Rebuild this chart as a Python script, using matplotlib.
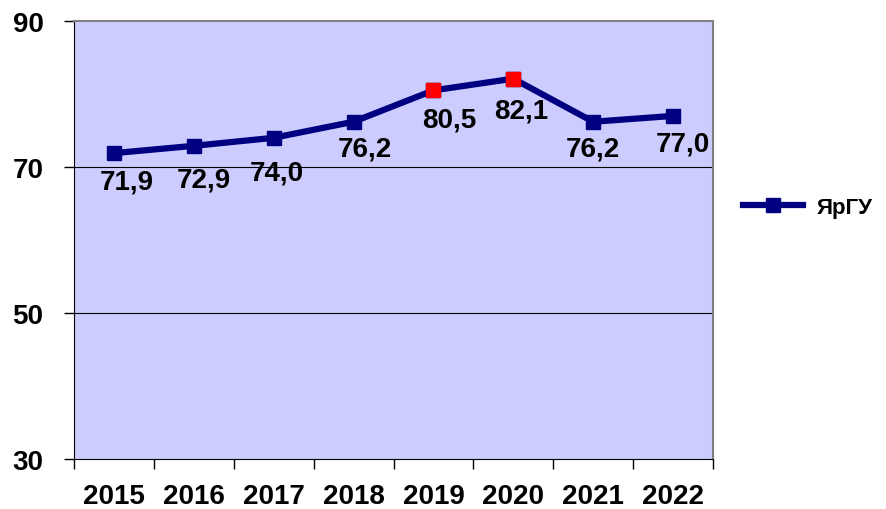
import matplotlib
matplotlib.use("Agg")
import matplotlib.pyplot as plt
import numpy as np

years = ["2015", "2016", "2017", "2018", "2019", "2020", "2021", "2022"]
values = [71.9, 72.9, 74.0, 76.2, 80.5, 82.1, 76.2, 77.0]
highlight = ["2019", "2020"]
series_name = "ЯрГУ"
yticks = [30, 50, 70, 90]

# label placement offsets (pixels) relative to each point
label_dx_px = [13, 10, 3, 11, 16, 8, 0, 10]
label_dy_px = [28, 34, 35, 27, 29, 32, 27, 28]

plt.rcParams['font.family'] = ['Liberation Sans', 'DejaVu Sans']
plt.rcParams['font.weight'] = 'bold'

fig = plt.figure(figsize=(8.86, 5.10), dpi=100)
ax = fig.add_axes([74/886, 1-460/510, (713-74)/886, (460-22)/510])
ax.set_facecolor('#CCCCFF')

x = np.arange(len(years))
navy = '#000080'
ax.plot(x, values, color=navy, lw=4.5, marker='s', ms=10.5, mfc=navy, mec=navy,
        label=series_name, zorder=3)
hx = [i for i, y in enumerate(years) if y in highlight]
ax.plot(hx, [values[i] for i in hx], ls='none', marker='s', ms=10.5, mfc='#FF0000',
        mec='#FF0000', zorder=4)

for xi, v, dx, dy in zip(x, values, label_dx_px, label_dy_px):
    ax.annotate(f"{v:.1f}".replace('.', ','), (xi, v), xytext=(dx * 0.72, -dy * 0.72),
                textcoords='offset points', ha='center', va='center',
                fontsize=20, fontweight='bold', color='black', zorder=5)

ax.set_xlim(-0.5, len(years) - 0.5)
ax.set_ylim(30, 90)
ax.set_yticks(yticks)
ax.set_yticklabels([str(t) for t in yticks], fontsize=20, fontweight='bold')
ax.set_xticks(x)
ax.set_xticklabels(years, fontsize=20, fontweight='bold')
ax.set_xticks(np.arange(-0.5, len(years)), minor=True)
ax.tick_params(axis='x', which='major', length=0, pad=17)
ax.tick_params(axis='x', which='minor', length=7, width=1, direction='out')
ax.tick_params(axis='y', which='major', length=7, width=1, direction='out', pad=15)

for g in [50, 70]:
    ax.axhline(g, color='black', lw=0.8, zorder=1)

ax.spines['top'].set_color('#808080')
ax.spines['right'].set_color('#808080')
ax.spines['top'].set_linewidth(1.5)
ax.spines['right'].set_linewidth(1.5)
ax.spines['left'].set_color('black')
ax.spines['bottom'].set_color('black')

leg = ax.legend(loc='center left', bbox_to_anchor=(1.047, 0.575), frameon=False,
                prop={'size': 16, 'weight': 'bold'}, handlelength=2.7,
                handletextpad=0.6, borderaxespad=0, borderpad=0)

fig.savefig('out.png', dpi=100)
